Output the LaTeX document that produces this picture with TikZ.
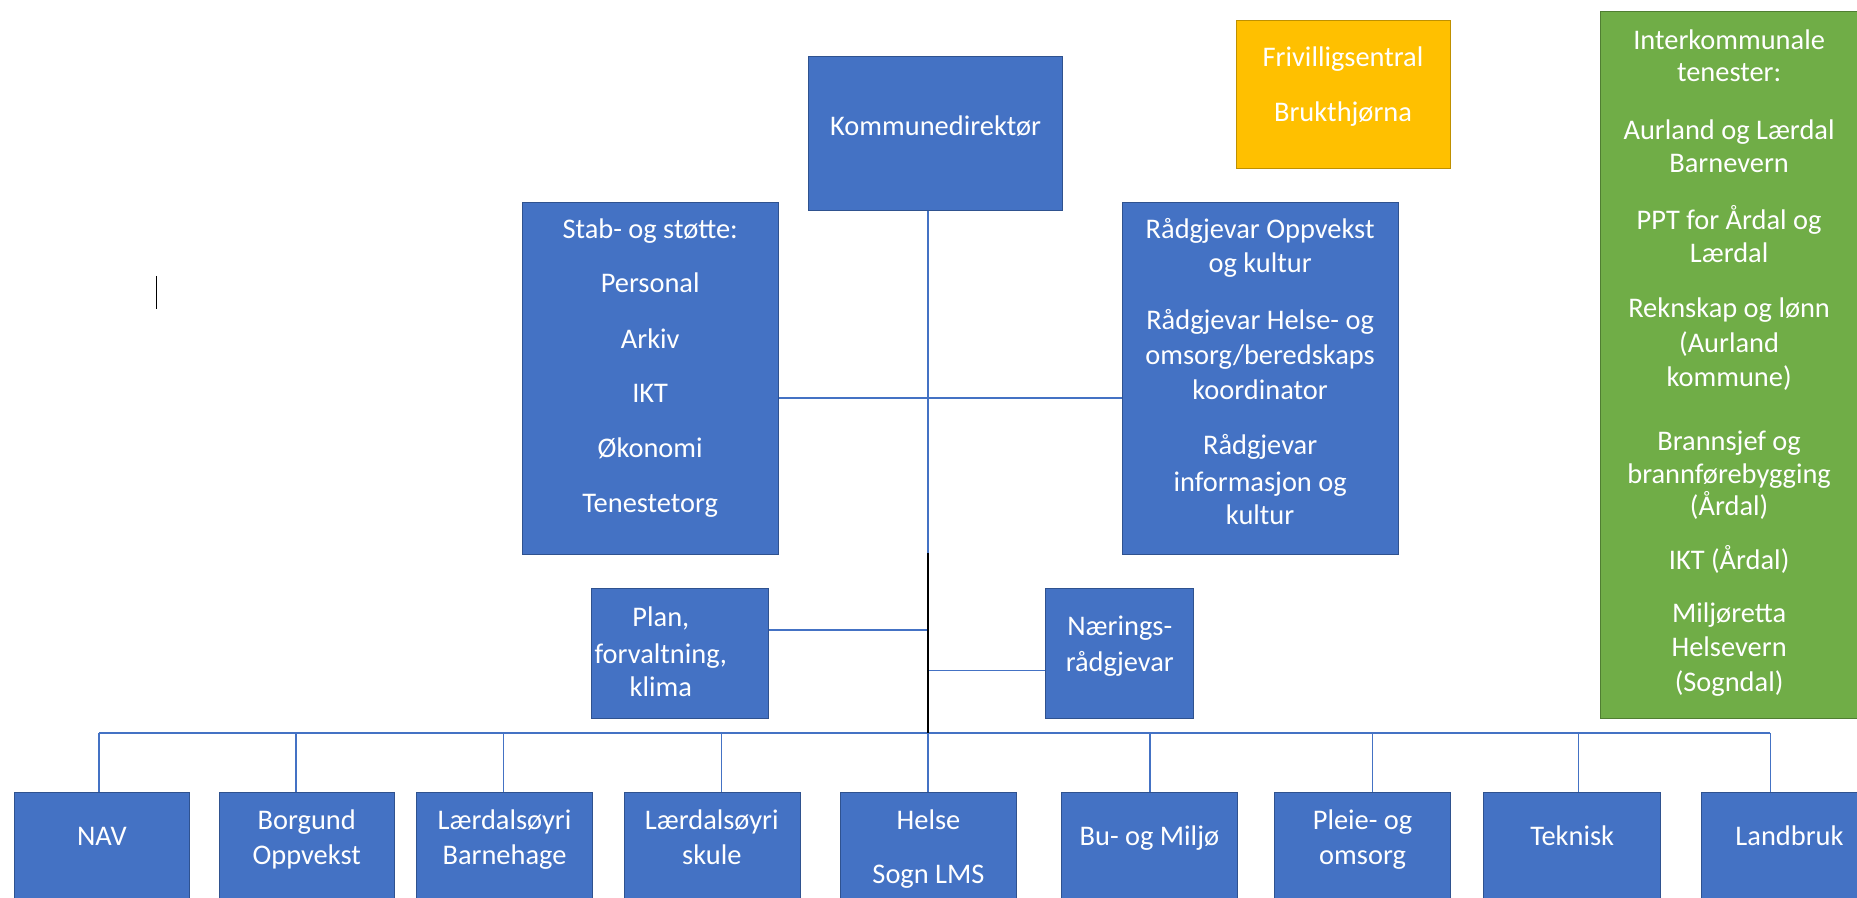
\documentclass[tikz,border=0pt]{standalone}
\usepackage{fontspec}
\setmainfont{Carlito}
\usetikzlibrary{fit}
\definecolor{bfill}{HTML}{4472C4}
\definecolor{bdraw}{HTML}{2F528F}
\definecolor{ofill}{HTML}{FFC000}
\definecolor{odraw}{HTML}{BF9000}
\definecolor{gfill}{HTML}{70AD47}
\definecolor{gdraw}{HTML}{507E32}
\tikzset{
  bluebox/.style={fill=bfill, draw=bdraw, line width=0.8pt, inner sep=0pt},
  orangebox/.style={fill=ofill, draw=odraw, line width=0.8pt, inner sep=0pt},
  greenbox/.style={fill=gfill, draw=gdraw, line width=0.8pt, inner sep=0pt},
  txt/.style={text=white, font=\fontsize{24}{29}\selectfont, inner sep=0pt, anchor=base, yshift=-8pt},
  conn/.style={draw=bfill, line width=1.2pt},
  trunkblack/.style={draw=black, line width=1.8pt},
}
\begin{document}
\begin{tikzpicture}[x=1pt,y=-1pt]
\clip (0,0) rectangle (1568,758);
\fill[white] (0,0) rectangle (1568,758);

% boxes
\node[bluebox, fit={(683,48) (897,178)}] (kd) {};
\node[bluebox, fit={(441,171) (657,468)}] (stab) {};
\node[bluebox, fit={(948,171) (1181,468)}] (rad) {};
\node[orangebox, fit={(1044,17.5) (1225,142)}] (friv) {};
\node[greenbox, fit={(1351,10) (1580,606.5)}] (inter) {};
\node[bluebox, fit={(499,497) (649,607)}] (plan) {};
\node[bluebox, fit={(883,497) (1008,607)}] (naer) {};

\node[bluebox, fit={(12,669.5) (160,780)}] (nav) {};
\node[bluebox, fit={(185,669.5) (333,780)}] (borg) {};
\node[bluebox, fit={(352,669.5) (500,780)}] (bhage) {};
\node[bluebox, fit={(527,669.5) (676,780)}] (skule) {};
\node[bluebox, fit={(710,669.5) (858,780)}] (helse) {};
\node[bluebox, fit={(896,669.5) (1045,780)}] (bu) {};
\node[bluebox, fit={(1076,669.5) (1225,780)}] (pleie) {};
\node[bluebox, fit={(1253,669.5) (1402,780)}] (tek) {};
\node[bluebox, fit={(1437,669.5) (1585,780)}] (land) {};

% texts
\node[txt] (kdT) at (790,106) {Kommunedirektør};
\foreach \t/\yy [count=\i] in {{Stab- og støtte:}/193, Personal/239, Arkiv/286, IKT/332, Økonomi/378, Tenestetorg/425}
  \node[txt] (stabT\i) at (549,\yy) {\t};
\foreach \t/\yy [count=\i] in {{Rådgjevar Oppvekst}/193, {og kultur}/222, {Rådgjevar Helse- og}/270, {omsorg/beredskaps}/300, koordinator/329, Rådgjevar/376, {informasjon og}/407, kultur/435}
  \node[txt] (radT\i) at (1064,\yy) {\t};
\foreach \t/\yy [count=\i] in {Frivilligsentral/48, Brukthjørna/95}
  \node[txt] (frivT\i) at (1134,\yy) {\t};
\foreach \t/\yy [count=\i] in {Interkommunale/34, {tenester:}/61, {Aurland og Lærdal}/110, Barnevern/138, {PPT for Årdal og}/186, Lærdal/214, {Reknskap og lønn}/260, {(Aurland}/290, {kommune)}/318, {Brannsjef og}/372, brannførebygging/400, {(Årdal)}/427, {IKT (Årdal)}/473, Miljøretta/518, Helsevern/546, {(Sogndal)}/576}
  \node[txt] (interT\i) at (1460,\yy) {\t};
\foreach \t/\yy [count=\i] in {{Plan,}/521, {forvaltning,}/552, klima/580}
  \node[txt] (planT\i) at (558,\yy) {\t};
\foreach \t/\yy [count=\i] in {Nærings-/529, rådgjevar/559}
  \node[txt] (naerT\i) at (945.5,\yy) {\t};

\node[txt] (navT) at (86,706) {NAV};
\node[txt] (borgT1) at (259,692) {Borgund};
\node[txt] (borgT2) at (259,722) {Oppvekst};
\node[txt] (bhageT1) at (426,692) {Lærdalsøyri};
\node[txt] (bhageT2) at (426,722) {Barnehage};
\node[txt] (skuleT1) at (601,692) {Lærdalsøyri};
\node[txt] (skuleT2) at (601,722) {skule};
\node[txt] (helseT1) at (784,692) {Helse};
\node[txt] (helseT2) at (784,738) {Sogn LMS};
\node[txt] (buT) at (970.5,706) {Bu- og Miljø};
\node[txt] (pleieT1) at (1150.5,692) {Pleie- og};
\node[txt] (pleieT2) at (1150.5,722) {omsorg};
\node[txt] (tekT) at (1327.5,706) {Teknisk};
\node[txt] (landT) at (1511,706) {Landbruk};

% trunk coordinates
\coordinate (tTop) at (783.5,178);
\coordinate (tMid) at (783.5,467);
\coordinate (tBar) at (783.5,618.8);
\coordinate (tStab) at (783.5,336);
\coordinate (tPlan) at (783.5,532);
\coordinate (tNaer) at (783.5,566);

% connectors
\draw[conn] (tTop) -- (tMid);
\draw[conn] (stab.east |- tStab) -- (rad.west |- tStab);
\draw[conn] (plan.east |- tPlan) -- (tPlan);
\draw[conn] (tNaer) -- (naer.west |- tNaer);

\coordinate (bL) at (83.5,618.8);
\coordinate (bR) at (1494.7,618.8);
\draw[conn] (bL) -- (bR);
\coordinate (dNav) at (83.5,618.8);
\coordinate (dBorg) at (250,618.8);
\coordinate (dBhage) at (425,618.8);
\coordinate (dSkule) at (609,618.8);
\coordinate (dBu) at (971,618.8);
\coordinate (dPleie) at (1159,618.8);
\coordinate (dTek) at (1333,618.8);
\coordinate (dLand) at (1494.7,618.8);
\draw[conn] (dNav) -- (dNav |- nav.north);
\draw[conn] (dBorg) -- (dBorg |- borg.north);
\draw[conn] (dBhage) -- (dBhage |- bhage.north);
\draw[conn] (dSkule) -- (dSkule |- skule.north);
\draw[conn] (tBar) -- (tBar |- helse.north);
\draw[conn] (dBu) -- (dBu |- bu.north);
\draw[conn] (dPleie) -- (dPleie |- pleie.north);
\draw[conn] (dTek) -- (dTek |- tek.north);
\draw[conn] (dLand) -- (dLand |- land.north);
\draw[trunkblack] (tMid) -- (tBar);

% text cursor mark
\draw[black, line width=1.2pt] (132,233) -- (132,261);
\end{tikzpicture}
\end{document}
